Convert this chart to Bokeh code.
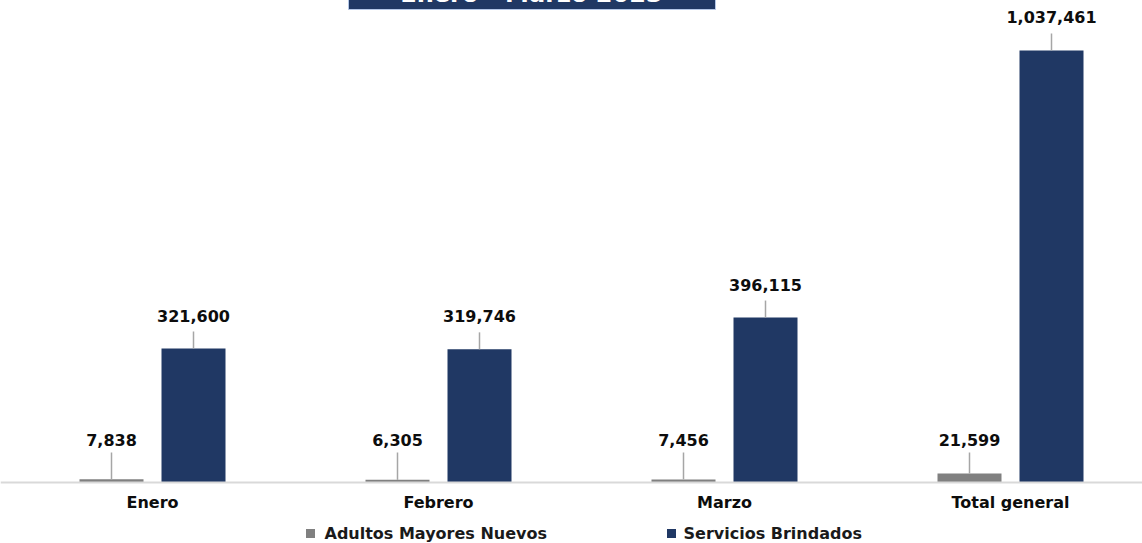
from bokeh.plotting import figure
from bokeh.models import Range1d, Span
from bokeh.core.properties import value
from bokeh.embed import file_html
from bokeh.resources import INLINE

# ---- data ----
categories = ["Enero", "Febrero", "Marzo", "Total general"]
adultos_nuevos = [7838, 6305, 7456, 21599]
servicios = [321600, 319746, 396115, 1037461]
series_names = ["Adultos Mayores Nuevos", "Servicios Brindados"]
title_text = "Enero - Marzo 2023"

# ---- layout constants ----
FONT = "DejaVu Sans"
GRAY = "#808080"
BLUE = "#203864"
PX_CAT = 286.0            # pixels per category
UNIT = 2401.5             # data units per pixel (y)
HIDDEN = 30               # px of figure hidden above page top
W, H = 1142, 542 + HIDDEN
BASE = 482 + HIDDEN       # baseline, px from figure top

x_start = -9.0 / PX_CAT
x_end = x_start + W / PX_CAT
y_end = BASE * UNIT
y_start = -(H - BASE) * UNIT

p = figure(width=W, height=H, output_backend="svg", toolbar_location=None,
           x_range=Range1d(x_start, x_end), y_range=Range1d(y_start, y_end),
           min_border=0, outline_line_color=None,
           styles={"margin-top": f"-{HIDDEN}px"})
p.axis.visible = False
p.grid.visible = False
p.background_fill_color = "white"
p.border_fill_color = "white"

n = len(categories)
centers = [i + 0.5 for i in range(n)]
off = 41.0 / PX_CAT
bw = 64.0 / PX_CAT
gx = [c - off for c in centers]
bx = [c + off for c in centers]

# baseline
p.add_layout(Span(location=0, dimension="width", line_color="#d9d9d9", line_width=2))

# bars
p.vbar(x=gx, top=adultos_nuevos, width=bw, bottom=0, fill_color=GRAY, line_color=None)
p.vbar(x=bx, top=servicios, width=bw, bottom=0, fill_color=BLUE, line_color=None)

# leader lines
p.segment(x0=bx, y0=servicios, x1=bx, y1=[v + 17 * UNIT for v in servicios],
          line_color="#a6a6a6", line_width=1.5)
p.segment(x0=gx, y0=adultos_nuevos, x1=gx, y1=[30 * UNIT] * n,
          line_color="#a6a6a6", line_width=1.5)

# value labels
fmt = lambda v: f"{v:,}"
p.text(x=bx, y=servicios, text=[fmt(v) for v in servicios], y_offset=-33,
       text_align="center", text_baseline="middle", text_font=value(FONT),
       text_font_style="bold", text_font_size="16px", text_color="#0d0d0d")
p.text(x=gx, y=[0] * n, text=[fmt(v) for v in adultos_nuevos], y_offset=-43,
       text_align="center", text_baseline="middle", text_font=value(FONT),
       text_font_style="bold", text_font_size="16px", text_color="#0d0d0d")

# category labels
p.text(x=centers, y=[0] * n, text=categories, y_offset=20,
       text_align="center", text_baseline="middle", text_font=value(FONT),
       text_font_style="bold", text_font_size="16px", text_color="#0d0d0d")

# legend (manual)
leg_y = -51 * UNIT
leg_sq_x = [(310 - 9) / PX_CAT, (671 - 9) / PX_CAT]
leg_tx_x = [(324 - 9) / PX_CAT, (683 - 9) / PX_CAT]
p.scatter(x=leg_sq_x, y=[leg_y] * 2, marker="square", size=9,
          fill_color=[GRAY, BLUE], line_color=None)
p.text(x=leg_tx_x, y=[leg_y] * 2, text=series_names, text_align="left",
       text_baseline="middle", text_font=value(FONT), text_font_style="bold",
       text_font_size="16px", text_color="#1a1a1a")

# title box (mostly above the page, as in the reference)
p.quad(left=[(348 - 9) / PX_CAT], right=[(715 - 9) / PX_CAT],
       bottom=[473 * UNIT], top=[y_end + 10 * UNIT],
       fill_color=BLUE, line_color="#b4c7e7", line_width=1)
p.text(x=[(531 - 9) / PX_CAT], y=[488.5 * UNIT], text=[title_text],
       text_align="center", text_baseline="middle", text_font=value(FONT),
       text_font_style="bold", text_font_size="24px", text_color="white")

open("out.html", "w").write(file_html(p, INLINE))
